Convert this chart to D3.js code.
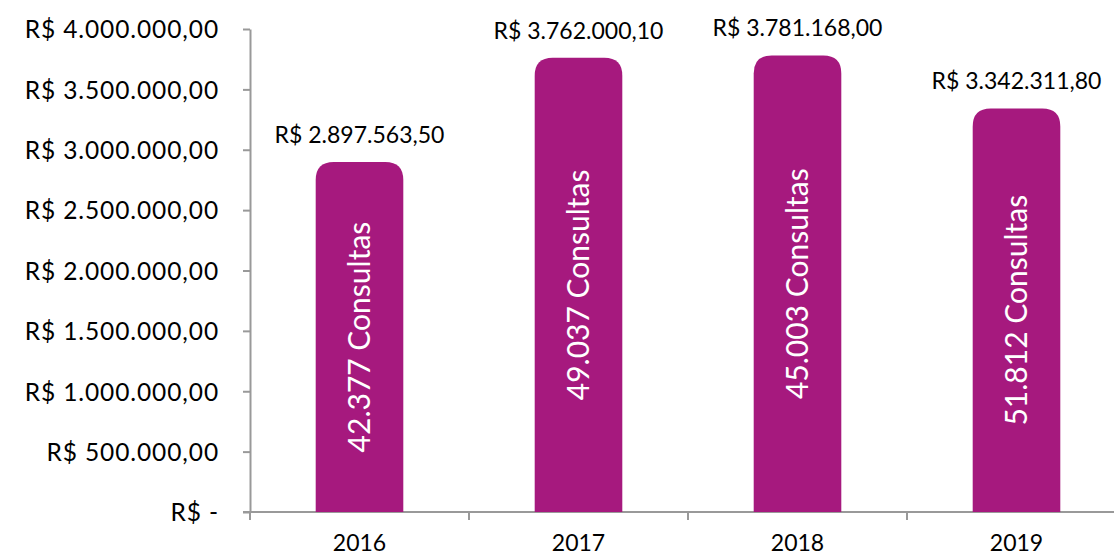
<!DOCTYPE html>
<html>
<head>
  <meta charset="utf-8">
  <script src="https://cdn.jsdelivr.net/npm/d3@7"></script>
  <style>
    body { margin: 0; background: #fff; }
    svg text { font-family: Lato, "DejaVu Sans", sans-serif; }
  </style>
</head>
<body>
  <svg id="chart" width="1114" height="555"></svg>
  <script>
    // data
    var years     = ["2016", "2017", "2018", "2019"];
    var valores   = [2897563.50, 3762000.10, 3781168.00, 3342311.80];
    var consultas = ["42.377 Consultas", "49.037 Consultas", "45.003 Consultas", "51.812 Consultas"];
    var yTicks    = [0, 500000, 1000000, 1500000, 2000000, 2500000, 3000000, 3500000, 4000000];

    var chart = d3.select("#chart");
    var barColor  = "#A6197E";
    var axisColor = "#999999";

    var brl = d3.formatLocale({decimal: ",", thousands: ".", grouping: [3], currency: ["R$ ", ""]});
    var fmt = brl.format("$,.2f");

    var x = d3.scaleBand().domain(years).range([250, 250 + 4 * 219])
              .paddingInner(0.6).paddingOuter(0.3);
    var y = d3.scaleLinear().domain([0, 4000000]).range([512, 29]);

    // y axis
    var yAxis = d3.axisLeft(y).tickValues(yTicks).tickSize(7).tickSizeOuter(0)
                  .tickFormat(function(d) { return d === 0 ? "R$ -" : fmt(d); });
    var gy = chart.append("g").attr("transform", "translate(250,0)").call(yAxis);
    gy.select(".domain").attr("stroke", axisColor).attr("stroke-width", 2);
    gy.selectAll(".tick line").attr("stroke", axisColor).attr("stroke-width", 2);
    gy.selectAll(".tick text").attr("x", -31).attr("dy", "0.36em")
      .style("font-size", "24.5px").style("letter-spacing", "0.9px").attr("fill", "#000");

    // x axis baseline + boundary ticks
    var step = x.step();
    var bounds = years.map(function(d) { return x(d) - (step - x.bandwidth()) / 2; });
    bounds.push(bounds[bounds.length - 1] + step);
    chart.append("line").attr("x1", 243).attr("x2", 1114).attr("y1", y(0)).attr("y2", y(0))
         .attr("stroke", axisColor).attr("stroke-width", 2);
    chart.selectAll(".xtick").data(bounds).enter().append("line").attr("class", "xtick")
         .attr("x1", function(d) { return d; }).attr("x2", function(d) { return d; })
         .attr("y1", y(0)).attr("y2", y(0) + 8)
         .attr("stroke", axisColor).attr("stroke-width", 2);
    chart.selectAll(".xlab").data(years).enter().append("text").attr("class", "xlab")
         .attr("x", function(d) { return x(d) + x.bandwidth() / 2; })
         .attr("y", 551).attr("text-anchor", "middle")
         .style("font-size", "23px").text(function(d) { return d; });

    // bars with rounded tops
    function barPath(x0, w, yTop, yBot, r) {
      return "M" + x0 + "," + yBot +
             "L" + x0 + "," + (yTop + r) +
             "Q" + x0 + "," + yTop + " " + (x0 + r) + "," + yTop +
             "L" + (x0 + w - r) + "," + yTop +
             "Q" + (x0 + w) + "," + yTop + " " + (x0 + w) + "," + (yTop + r) +
             "L" + (x0 + w) + "," + yBot + "Z";
    }
    chart.selectAll(".bar").data(valores).enter().append("path").attr("class", "bar")
         .attr("d", function(d, i) { return barPath(x(years[i]), x.bandwidth(), y(d), y(0), 18); })
         .attr("fill", barColor);

    // value labels
    chart.selectAll(".vlab").data(valores).enter().append("text").attr("class", "vlab")
         .attr("x", function(d, i) { return x(years[i]) + x.bandwidth() / 2; })
         .attr("y", function(d) { return y(d) - 19; })
         .attr("text-anchor", "middle").style("font-size", "23px")
         .text(function(d) { return fmt(d); });

    // rotated labels inside bars
    chart.selectAll(".clab").data(valores).enter().append("text").attr("class", "clab")
         .attr("transform", function(d, i) {
           var cx = x(years[i]) + x.bandwidth() / 2;
           var cy = (y(d) + y(0)) / 2;
           return "translate(" + cx + "," + cy + ") rotate(-90)";
         })
         .attr("text-anchor", "middle").attr("dy", "0.36em")
         .style("font-size", "30px").attr("fill", "#fff")
         .text(function(d, i) { return consultas[i]; });
  </script>
</body>
</html>
